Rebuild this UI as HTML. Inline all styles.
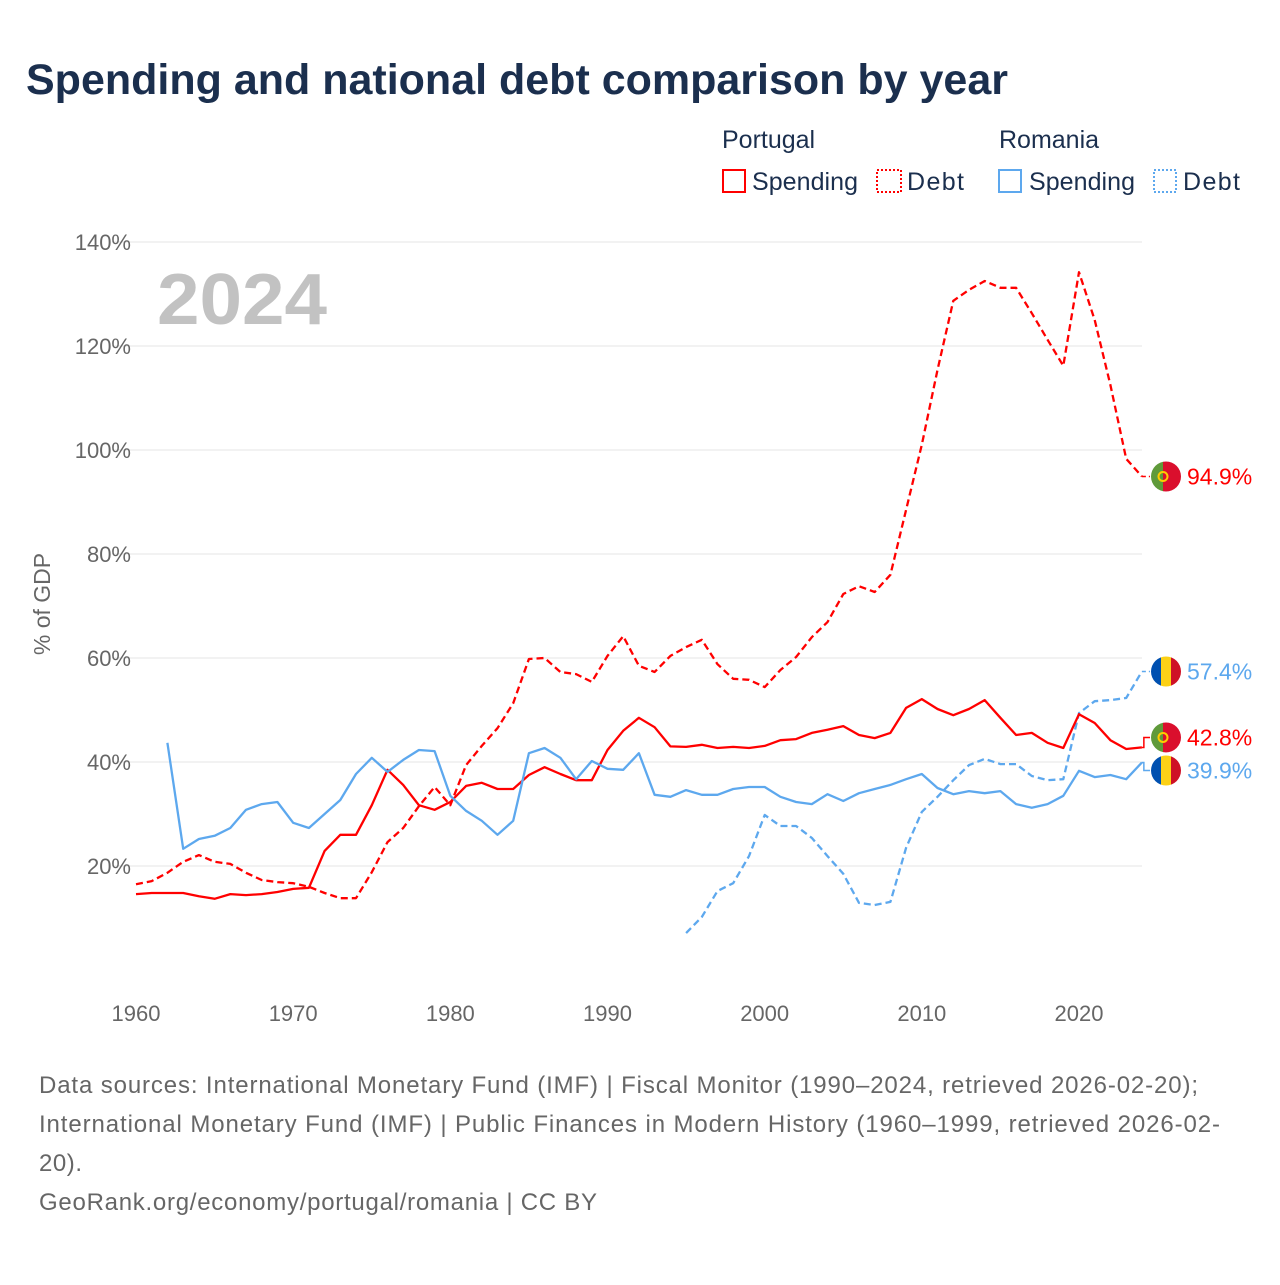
<!DOCTYPE html>
<html><head><meta charset="utf-8"><style>
body{margin:0;width:1280px;height:1280px;background:#fff;font-family:"Liberation Sans",sans-serif;overflow:hidden}
svg text{font-family:"Liberation Sans",sans-serif}
</style></head><body>
<svg id="c" width="1280" height="1280" viewBox="0 0 1280 1280">
<text x="26" y="94" font-size="43" font-weight="bold" fill="#1b2f4e">Spending and national debt comparison by year</text>
<g fill="#1b2f4e" font-size="25">
<text x="722" y="148">Portugal</text>
<text x="999" y="148">Romania</text>
<g><rect x="723" y="170" width="22" height="22" fill="none" stroke="#f00" stroke-width="2"/><text x="752" y="190" textLength="106">Spending</text></g>
<g><rect x="877" y="170" width="24" height="22" fill="none" stroke="#f00" stroke-width="2" stroke-dasharray="2 2"/><text x="907" y="190" textLength="57">Debt</text></g>
<g><rect x="999" y="170" width="22" height="22" fill="none" stroke="#5da8ee" stroke-width="2"/><text x="1029" y="190" textLength="106">Spending</text></g>
<g><rect x="1154" y="170" width="22" height="22" fill="none" stroke="#5da8ee" stroke-width="2" stroke-dasharray="2 2"/><text x="1183" y="190" textLength="57">Debt</text></g>
</g>
<text x="157" y="324" font-size="72" font-weight="bold" fill="#c2c2c2" textLength="170" lengthAdjust="spacingAndGlyphs">2024</text>
<text transform="translate(50,604) rotate(-90)" text-anchor="middle" font-size="23" fill="#666">% of GDP</text>
<g id="grid"></g><g id="series"></g><g id="ends"></g>
<g font-size="24" fill="#666">
<text x="39" y="1093" textLength="1159">Data sources: International Monetary Fund (IMF) | Fiscal Monitor (1990–2024, retrieved 2026-02-20);</text>
<text x="39" y="1132" textLength="1181">International Monetary Fund (IMF) | Public Finances in Modern History (1960–1999, retrieved 2026-02-</text>
<text x="39" y="1171" textLength="43">20).</text>
<text x="39" y="1210" textLength="558">GeoRank.org/economy/portugal/romania | CC BY</text>
</g>
</svg>
<script>
const yTicks=[20,40,60,80,100,120,140];
const xTicks=[1960,1970,1980,1990,2000,2010,2020];
const ptSpendStart=1960;
const ptSpending=[14.6,14.8,14.8,14.8,14.2,13.7,14.6,14.4,14.6,15.0,15.6,15.8,22.9,26,26,31.7,38.5,35.6,31.7,30.8,32.3,35.4,36,34.8,34.8,37.5,39,37.7,36.5,36.5,42.3,46,48.5,46.7,43,42.9,43.3,42.7,42.9,42.7,43.1,44.2,44.4,45.6,46.2,46.9,45.2,44.6,45.6,50.4,52.1,50.2,49,50.2,51.9,48.5,45.2,45.6,43.7,42.7,49.2,47.5,44.2,42.5,42.8];
const ptDebtStart=1960;
const ptDebt=[16.5,17.1,18.7,20.8,22.1,20.8,20.4,18.7,17.3,16.9,16.7,16,14.8,13.8,13.8,18.8,24.6,27.3,31.5,35.2,31.7,39.4,43.1,46.5,51.3,59.8,60,57.3,56.9,55.4,60.4,64.2,58.5,57.3,60.4,62.1,63.5,58.8,56,55.8,54.4,57.7,60.2,64,66.9,72.3,73.8,72.7,76,88.5,101,115.4,128.7,130.8,132.5,131.2,131.2,126.3,121.2,116.2,134.2,125,112.5,98.3,94.9];
const roSpendStart=1962;
const roSpending=[43.7,23.3,25.2,25.8,27.3,30.8,31.9,32.3,28.3,27.3,30,32.7,37.7,40.8,38.1,40.4,42.3,42.1,33.5,30.6,28.7,26,28.7,41.7,42.7,40.8,36.7,40.2,38.7,38.5,41.7,33.7,33.3,34.6,33.7,33.7,34.8,35.2,35.2,33.3,32.3,31.9,33.8,32.5,34,34.8,35.6,36.7,37.7,35,33.8,34.4,34,34.4,31.9,31.2,31.9,33.5,38.3,37.1,37.5,36.7,39.9];
const roDebtStart=1995;
const roDebt=[7.1,10.2,15.2,16.7,21.9,29.8,27.7,27.7,25.4,21.9,18.5,12.9,12.5,13.1,23.5,30.4,33.3,36.5,39.4,40.6,39.6,39.6,37.3,36.5,36.7,49.4,51.7,51.9,52.3,57.4];
const X=y=>136+(y-1960)*(1079-136)/60;
const Y=v=>970-v*5.2;
const NS="http://www.w3.org/2000/svg";
function mk(tag,attrs,parent){const e=document.createElementNS(NS,tag);for(const k in attrs)e.setAttribute(k,attrs[k]);parent.appendChild(e);return e;}
const grid=document.getElementById('grid');
yTicks.forEach(t=>{
 const l=mk('line',{x1:112,x2:1142,y1:Y(t),y2:Y(t),stroke:'#e6e6e6','stroke-width':1},grid);
 
 
 const tx=mk('text',{x:131,y:Y(t)+8,'text-anchor':'end','font-size':22,fill:'#666'},grid);
 tx.textContent=t+'%';
 
 
});
xTicks.forEach(t=>{
 const tx=mk('text',{x:X(t),y:1021,'text-anchor':'middle','font-size':22,fill:'#666'},grid);
 tx.textContent=t;
 
 
});
const ser=document.getElementById('series');
function line(data,start,color,dash,name){
 const pts=data.map((v,i)=>X(start+i).toFixed(1)+','+Y(v).toFixed(1)).join(' ');
 const p=mk('polyline',{points:pts,fill:'none',stroke:color,'stroke-width':2.3,'stroke-linejoin':'round'},ser);
 if(dash)p.setAttribute('stroke-dasharray',dash);
 
 
}
line(ptDebt,ptDebtStart,'#f00','7 4','line-portugal-debt');
line(roDebt,roDebtStart,'#5da8ee','7 4','line-romania-debt');
line(ptSpending,ptSpendStart,'#f00',null,'line-portugal-spending');
line(roSpending,roSpendStart,'#5da8ee',null,'line-romania-spending');
const ends=document.getElementById('ends');
function endMark(data,start,color,dash,labelY,flag,name){
 const last=data[data.length-1];const ly=Y(last);const x0=X(start+data.length-1);
 const p=mk('polyline',{points:`${x0},${ly} ${x0+2},${ly} ${x0+2},${labelY} 1150,${labelY}`,fill:'none',stroke:color,'stroke-width':1.5},ends);
 if(dash)p.setAttribute('stroke-dasharray',dash);
 const g=mk('g',{},ends);
 
 
 const cx=1166,cy=labelY,r=15;
 mk('clipPath',{id:'cp'+name},g);
 const cp=g.lastChild;mk('circle',{cx,cy,r},cp);
 const fg=mk('g',{'clip-path':`url(#cp${name})`},g);
 if(flag==='pt'){
  mk('rect',{x:cx-r,y:cy-r,width:12,height:30,fill:'#5f9a3a'},fg);
  mk('rect',{x:cx-r+12,y:cy-r,width:18,height:30,fill:'#da0f2d'},fg);
  mk('circle',{cx:cx-3,cy,r:4.5,fill:'none',stroke:'#ffcc00','stroke-width':2},fg);
 }else{
  mk('rect',{x:cx-r,y:cy-r,width:10,height:30,fill:'#0050b0'},fg);
  mk('rect',{x:cx-5,y:cy-r,width:10,height:30,fill:'#fcd116'},fg);
  mk('rect',{x:cx+5,y:cy-r,width:10,height:30,fill:'#ce1126'},fg);
 }
 const t=mk('text',{x:1187,y:labelY+8,'font-size':23,fill:color},g);
 t.textContent=last.toFixed(1)+'%';
}
endMark(ptDebt,ptDebtStart,'#f00','4 3',Y(ptDebt[ptDebt.length-1]),'pt','end-label-portugal-debt');
endMark(roDebt,roDebtStart,'#5da8ee','4 3',Y(roDebt[roDebt.length-1]),'ro','end-label-romania-debt');
endMark(ptSpending,ptSpendStart,'#f00',null,Y(ptSpending[ptSpending.length-1])-10,'pt','end-label-portugal-spending');
endMark(roSpending,roSpendStart,'#5da8ee',null,Y(roSpending[roSpending.length-1])+8,'ro','end-label-romania-spending');
</script>
</body></html>
